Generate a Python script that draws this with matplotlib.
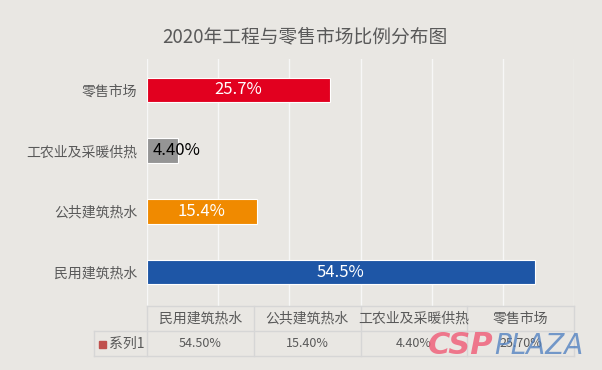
import matplotlib.pyplot as plt
from matplotlib.lines import Line2D
from matplotlib.patches import Rectangle

plt.rcParams['font.family'] = ['Noto Sans CJK SC', 'DejaVu Sans']

categories = ["民用建筑热水", "公共建筑热水", "工农业及采暖供热", "零售市场"]
values = [0.545, 0.154, 0.044, 0.257]
bar_labels = ["54.5%", "15.4%", "4.40%", "25.7%"]
table_values = ["54.50%", "15.40%", "4.40%", "25.70%"]
series_name = "系列1"
colors = ["#1E56A6", "#F08A00", "#959595", "#E2001F"]
label_colors = ["white", "white", "black", "white"]

bg = "#E9E7E3"
W, H = 602, 370
fig = plt.figure(figsize=(W / 100, H / 100), dpi=100, facecolor=bg)

# plot area in pixels
L, R, T, B = 147, 574, 59, 306
ax = fig.add_axes([L / W, 1 - B / H, (R - L) / W, (B - T) / H])
ax.set_facecolor(bg)

ypos = list(range(len(categories)))
ax.barh(ypos, values, height=0.41, color=colors, edgecolor="white", linewidth=0.8, zorder=3)
ax.set_xlim(0, 0.6)
ax.set_ylim(-0.56, 3.51)
ax.set_xticks([i / 10 for i in range(7)])
ax.grid(axis="x", color="#F7F7F7", linewidth=1, zorder=0)
ax.tick_params(axis="x", length=0, labelbottom=False)
ax.tick_params(axis="y", length=0, pad=7, labelsize=10, labelcolor="#595959")
ax.set_yticks(ypos)
ax.set_yticklabels(categories)
for s in ax.spines.values():
    s.set_visible(False)

for y, v, lab, c in zip(ypos, values, bar_labels, label_colors):
    x = v / 2 if c == "white" else v - 0.003
    ax.text(x, y, lab, ha="center", va="center", fontsize=12, color=c, zorder=4)

fig.text(0.507, 1 - 37 / H, "2020年工程与零售市场比例分布图", ha="center", va="center",
         fontsize=13.5, color="#595959")

# data table below the plot
line_c = "#D6D6D6"
def px(x, y):
    return x / W, 1 - y / H

row1, row2, row3 = 306, 331, 356
col_w = (R - L) / len(categories)
cols = [L + i * col_w for i in range(len(categories) + 1)]
segs = [((L, row1), (R, row1)), ((94, row2), (R, row2)), ((94, row3), (R, row3)),
        ((94, row2), (94, row3))]
for cx in cols:
    segs.append(((cx, row1), (cx, row3)))
for (x0, y0), (x1, y1) in segs:
    fig.add_artist(Line2D([x0 / W, x1 / W], [1 - y0 / H, 1 - y1 / H], color=line_c, linewidth=1))

for i, (cat, tv) in enumerate(zip(categories, table_values)):
    cx = cols[i] + col_w / 2
    fig.text(*px(cx, (row1 + row2) / 2), cat, ha="center", va="center", fontsize=10, color="#595959")
    fig.text(*px(cx, (row2 + row3) / 2), tv, ha="center", va="center", fontsize=9, color="#595959")

fig.add_artist(Rectangle(px(99, 348), 7 / W, 7 / H, color="#C0504D"))
fig.text(*px(109, (row2 + row3) / 2), series_name, ha="left", va="center", fontsize=10, color="#595959")

# watermark
fig.text(*px(428, 346), "CSP", ha="left", va="center", fontsize=22, fontweight="bold",
         style="italic", color="#F0506E", alpha=0.75, family="DejaVu Sans")
fig.text(*px(494, 346), "PLAZA", ha="left", va="center", fontsize=20,
         style="italic", color="#4A7CC0", alpha=0.75, family="DejaVu Sans")

fig.savefig("out.png", dpi=100, facecolor=bg)
